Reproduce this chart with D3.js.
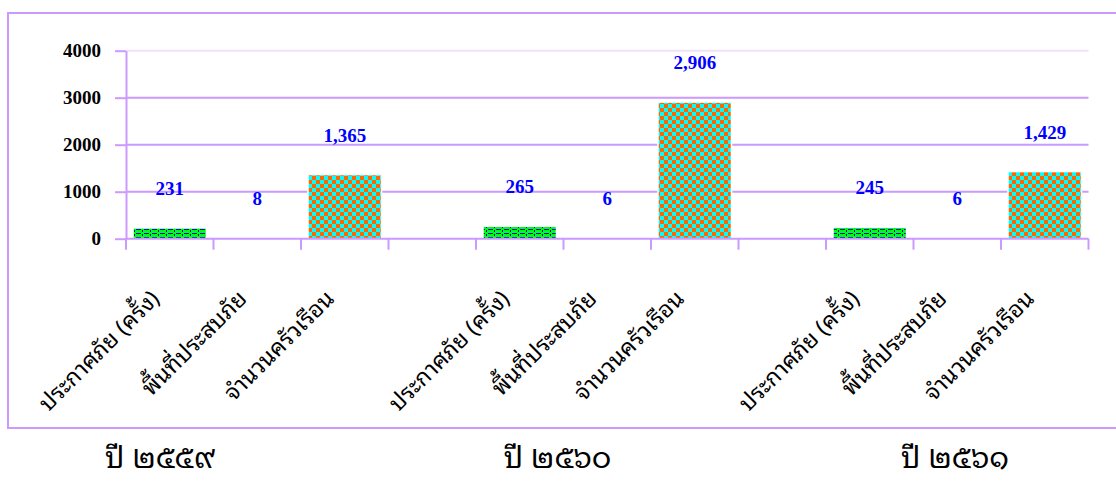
<!DOCTYPE html>
<html>
<head>
<meta charset="utf-8">
<script src="https://cdn.jsdelivr.net/npm/d3@7"></script>
<style>
  body { margin: 0; background: #fff; }
  svg { display: block; }
</style>
</head>
<body>
<div id="chart"></div>
<script>
// categories along x (blank slots separate the years)
const categories = [
  "ประกาศภัย (ครั้ง)", "พื้นที่ประสบภัย", "จำนวนครัวเรือน", "gap1",
  "ประกาศภัย (ครั้ง)", "พื้นที่ประสบภัย", "จำนวนครัวเรือน", "gap2",
  "ประกาศภัย (ครั้ง)", "พื้นที่ประสบภัย", "จำนวนครัวเรือน"
];
const values = [231, 8, 1365, null, 265, 6, 2906, null, 245, 6, 1429];
const kinds  = [0, 1, 2, null, 0, 1, 2, null, 0, 1, 2];
const yTicks = [0, 1000, 2000, 3000, 4000];
const years  = ["ปี ๒๕๕๙", "ปี ๒๕๖๐", "ปี ๒๕๖๑"];

const width = 1116, height = 485;
const lav = "#cc99ff";
const thaiFont = "'Noto Sans Thai Looped', 'Noto Serif Thai', Norasi, Kinnari, Garuda, Loma, 'Noto Sans Thai', Tahoma, sans-serif";
const serif = "'Liberation Serif', 'Times New Roman', serif";

const svg = d3.select("#chart").append("svg")
    .attr("width", width)
    .attr("height", height);

const defs = svg.append("defs");

// green with blue dashes
const pg = defs.append("pattern")
    .attr("id", "dash").attr("patternUnits", "userSpaceOnUse")
    .attr("width", 8).attr("height", 4);
pg.append("rect").attr("width", 8).attr("height", 4).attr("fill", "#00ff00");
pg.append("rect").attr("x", 0).attr("y", 1).attr("width", 5).attr("height", 1).attr("fill", "#0000ff");
pg.append("rect").attr("x", 6).attr("y", 2).attr("width", 1).attr("height", 2).attr("fill", "#0000ff");

// orange / cyan checkerboard
const pc = defs.append("pattern")
    .attr("id", "check").attr("patternUnits", "userSpaceOnUse")
    .attr("width", 8).attr("height", 8);
pc.append("rect").attr("width", 8).attr("height", 8).attr("fill", "#00ffff");
pc.append("rect").attr("width", 4).attr("height", 4).attr("fill", "#ff6600");
pc.append("rect").attr("x", 4).attr("y", 4).attr("width", 4).attr("height", 4).attr("fill", "#ff6600");
pc.selectAll("rect").attr("shape-rendering", "crispEdges");

const fills = ["url(#dash)", "#9999ff", "url(#check)"];

// outer frame
svg.append("rect")
    .attr("x", 8).attr("y", 13)
    .attr("width", 1120).attr("height", 415)
    .attr("fill", "none").attr("stroke", lav).attr("stroke-width", 2);

const x = d3.scaleBand()
    .domain(d3.range(categories.length))
    .range([126, 1088.5])
    .paddingInner(0.16).paddingOuter(0.08);

const y = d3.scaleLinear()
    .domain([0, 4000])
    .range([238.7, 50.7]);

// gridlines
svg.append("g")
  .selectAll("line")
  .data(yTicks.filter(d => d > 0))
  .join("line")
    .attr("x1", 126).attr("x2", 1088.5)
    .attr("y1", d => y(d)).attr("y2", d => y(d))
    .attr("stroke", d => d === 4000 ? "#efe2ff" : lav)
    .attr("stroke-width", 2);

// y axis
const yAxis = svg.append("g")
    .attr("transform", "translate(126,0)")
    .call(d3.axisLeft(y).tickValues(yTicks).tickFormat(d3.format("d"))
      .tickSize(11).tickPadding(14).tickSizeOuter(0));
yAxis.select(".domain").attr("stroke", lav).attr("stroke-width", 2);
yAxis.selectAll(".tick line").attr("stroke", lav).attr("stroke-width", 2);
yAxis.selectAll(".tick text")
    .attr("font-family", serif).attr("font-weight", "bold")
    .attr("font-size", 19).attr("fill", "#000");

// bars
const bars = d3.range(values.length).filter(i => values[i] != null);
svg.append("g")
  .selectAll("rect")
  .data(bars)
  .join("rect")
    .attr("x", i => x(i))
    .attr("width", x.bandwidth())
    .attr("y", i => y(values[i]))
    .attr("height", i => y(0) - y(values[i]))
    .attr("fill", i => fills[kinds[i]])
    .attr("stroke", "#fff").attr("stroke-width", 1.5);

// x axis line and category ticks
const step = x.step();
const xStart = x.range()[0];
svg.append("line")
    .attr("x1", xStart).attr("x2", x.range()[1])
    .attr("y1", y(0)).attr("y2", y(0))
    .attr("stroke", lav).attr("stroke-width", 2);
svg.append("g")
  .selectAll("line")
  .data(d3.range(categories.length + 1))
  .join("line")
    .attr("x1", i => xStart + i * step).attr("x2", i => xStart + i * step)
    .attr("y1", y(0)).attr("y2", y(0) + 11)
    .attr("stroke", lav).attr("stroke-width", 2);

// data labels
svg.append("g")
  .selectAll("text")
  .data(bars)
  .join("text")
    .attr("x", i => x(i) + x.bandwidth() / 2)
    .attr("y", i => y(values[i]) - 33)
    .attr("text-anchor", "middle")
    .attr("font-family", serif).attr("font-weight", "bold")
    .attr("font-size", 19).attr("fill", "#0000ff")
    .text(i => d3.format(",")(values[i]));

// rotated category labels
svg.append("g")
  .selectAll("text")
  .data(bars)
  .join("text")
    .attr("transform", i => `translate(${x(i) + x.bandwidth() / 2 - 9},300) rotate(-45)`)
    .attr("text-anchor", "end")
    .attr("font-family", thaiFont)
    .attr("font-size", 23).attr("fill", "#000")
    .text(i => categories[i]);

// year captions under the frame
const yx = d3.scalePoint().domain(years).range([160, 955]);
svg.append("g")
  .selectAll("text")
  .data(years)
  .join("text")
    .attr("x", d => yx(d)).attr("y", 468)
    .attr("text-anchor", "middle")
    .attr("font-family", thaiFont)
    .attr("font-size", 30).attr("fill", "#000")
    .text(d => d);
</script>
</body>
</html>
